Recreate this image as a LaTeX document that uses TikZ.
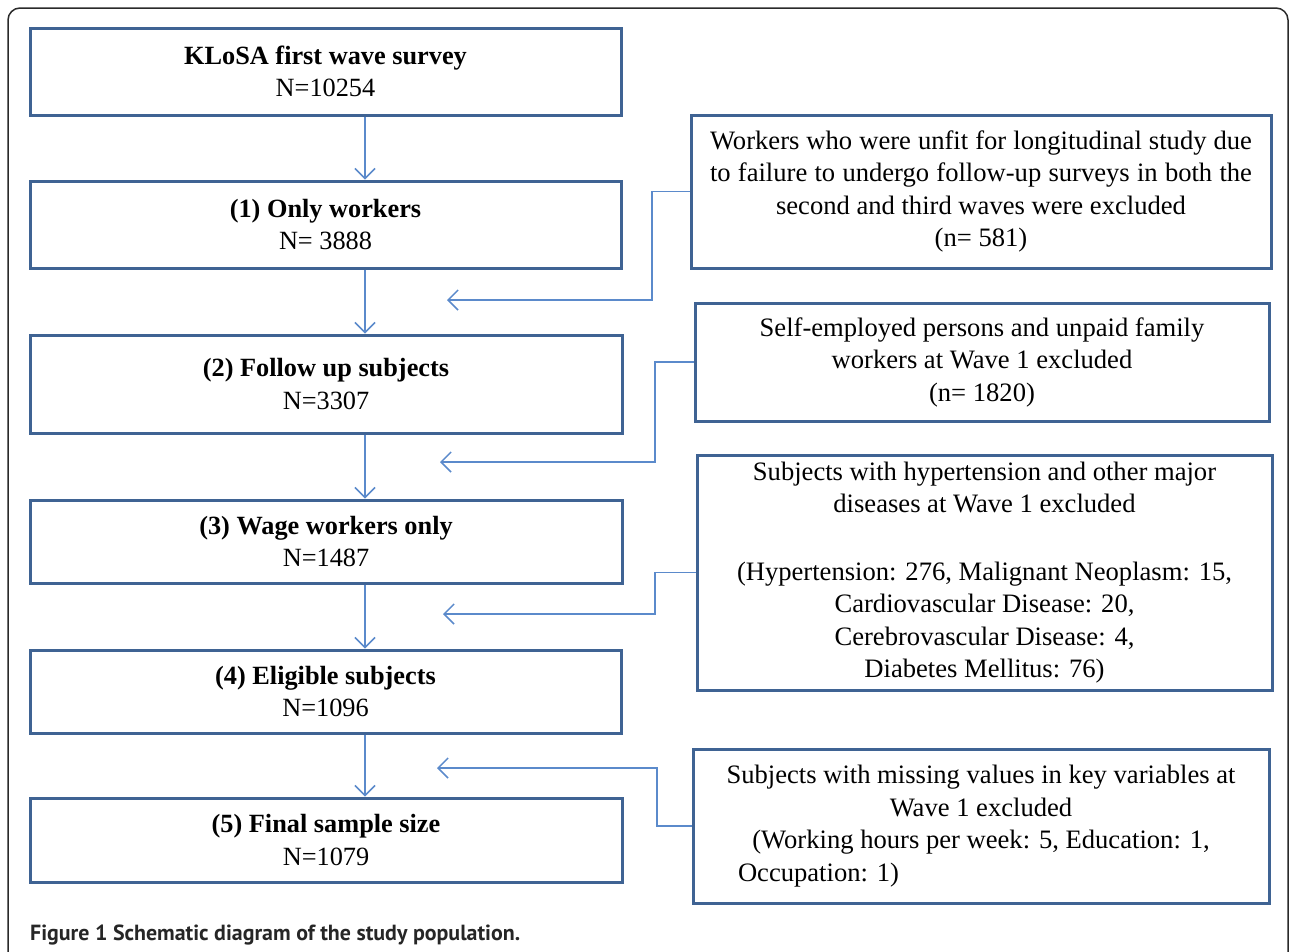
\documentclass[tikz,border=0pt]{standalone}
\usepackage{fontspec}
\setmainfont{Liberation Serif}
\newfontfamily\capfont{PT Sans}
\usetikzlibrary{arrows.meta}
\definecolor{boxblue}{HTML}{3F6393}
\definecolor{arrblue}{HTML}{5B8ACB}
\definecolor{frame}{HTML}{2A2A2A}
\tikzset{
  lbox/.style={draw=boxblue, line width=3pt, rectangle, inner sep=0pt, align=center,
    font=\fontsize{26.3}{32.5}\selectfont},
  rbox/.style={draw=boxblue, line width=3pt, rectangle, inner sep=0pt, align=center,
    font=\fontsize{26.6}{32.5}\selectfont},
  arr/.style={draw=arrblue, line width=1.5pt, -{Straight Barb[length=10pt,width=20pt,line width=1.5pt]}},
}
\begin{document}
\begin{tikzpicture}[x=1pt,y=-1pt]
\useasboundingbox (0,0) rectangle (1290,951);
\draw[frame, line width=1.5pt, rounded corners=12pt] (8,965) -- (8,8) -- (1288,8) -- (1288,965);

% left column boxes
\node[lbox, minimum width=591pt, minimum height=87pt] (b0) at (325.5,71.5) {\textbf{KLoSA first wave survey}\\N=10254};
\node[lbox, minimum width=591pt, minimum height=87pt] (b1) at (325.5,224.5) {\textbf{(1) Only workers}\\N= 3888};
\node[lbox, minimum width=592pt, minimum height=98pt] (b2) at (326,384) {\textbf{(2) Follow up subjects}\\N=3307};
\node[lbox, minimum width=592pt, minimum height=83pt] (b3) at (326,541.5) {\textbf{(3) Wage workers only}\\N=1487};
\node[lbox, minimum width=591pt, minimum height=83pt] (b4) at (325.5,691.5) {\textbf{(4) Eligible subjects}\\N=1096};
\node[lbox, minimum width=592pt, minimum height=84pt] (b5) at (326,840) {\textbf{(5) Final sample size}\\N=1079};

% right column boxes
\node[rbox, minimum width=580pt, minimum height=153pt] (r1) at (981,191.5)
 {\makebox[542pt][s]{Workers who were unfit for longitudinal study due}\\\makebox[542pt][s]{to failure to undergo follow-up surveys in both the}\\second and third waves were excluded\\(n= 581)};
\node[rbox, minimum width=574pt, minimum height=118pt] (r2) at (982,362)
 {Self-employed persons and unpaid family\\workers at Wave 1 excluded\\(n= 1820)};
\node[rbox, minimum width=575pt, minimum height=235pt] (r3) at (984.5,572.5)
 {Subjects with hypertension and other major\\diseases at Wave 1 excluded\\[35pt](Hypertension: 276, Malignant Neoplasm: 15,\\Cardiovascular Disease: 20,\\Cerebrovascular Disease: 4,\\Diabetes Mellitus: 76)};
\node[rbox, minimum width=576pt, minimum height=154pt] (r4) at (981,826)
 {Subjects with missing values in key variables at\\Wave 1 excluded\\(Working hours per week: 5, Education: 1,\\\makebox[470pt][l]{\hspace{-8pt}Occupation: 1)}};

% main vertical arrows
\coordinate (ax) at (365,0);
\draw[arr] (b0.south -| ax) -- (b1.north -| ax);
\draw[arr] (b1.south -| ax) -- (b2.north -| ax);
\draw[arr] (b2.south -| ax) -- (b3.north -| ax);
\draw[arr] (b3.south -| ax) -- (b4.north -| ax);
\draw[arr] (b4.south -| ax) -- (b5.north -| ax);

% exclusion connectors
\coordinate (k1) at (652,300); \coordinate (e1) at (447,300);
\coordinate (k2) at (655,462); \coordinate (e2) at (440,462);
\coordinate (k3) at (655,614); \coordinate (e3) at (443,614);
\coordinate (k4) at (657,768); \coordinate (e4) at (437,768);
\draw[arr] (r1.west) -| (k1) -- (e1);
\draw[arr] (r2.west) -| (k2) -- (e2);
\draw[arr] (r3.west) -| (k3) -- (e3);
\draw[arr] (r4.west) -| (k4) -- (e4);

% caption
\node[anchor=base west, inner sep=0pt, font=\capfont\bfseries\fontsize{21.9}{24}\selectfont, text=black!85] (cap) at (30,940)
 {Figure 1 Schematic diagram of the study population.};
\end{tikzpicture}
\end{document}
